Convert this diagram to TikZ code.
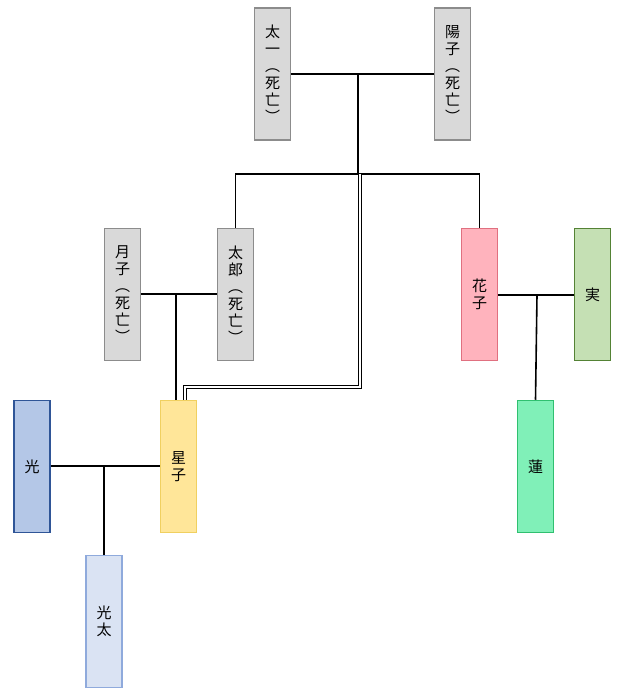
\documentclass[tikz,border=0pt]{standalone}
\usepackage{fontspec}
\newfontfamily\cjk{Noto Sans CJK JP}
\definecolor{gf}{HTML}{D9D9D9}\definecolor{gd}{HTML}{8C8C8C}
\definecolor{pkd}{HTML}{E07080}\definecolor{pkf}{HTML}{FFB3BD}
\definecolor{mid}{HTML}{548235}\definecolor{mif}{HTML}{C5E0B4}
\definecolor{yd}{HTML}{F0D060}\definecolor{yf}{HTML}{FFE699}
\definecolor{rd}{HTML}{30C070}\definecolor{rf}{HTML}{80F0B8}
\definecolor{bd}{HTML}{2F5597}\definecolor{bf}{HTML}{B4C7E7}
\definecolor{lbd}{HTML}{8FAADC}\definecolor{lbf}{HTML}{DAE3F3}
\begin{document}
\begin{tikzpicture}[x=1pt,y=-1pt,
  p/.style={draw=#1,line width=1.5pt,minimum width=36pt,minimum height=132pt,inner sep=0pt,align=center,font=\cjk\fontsize{15}{17}\selectfont},
  ln/.style={line width=1.6pt}]
\useasboundingbox (0,0) rectangle (640,692);
\node[p=gd,fill=gf] (taichi) at (272.5,74) {太\\一\\︵\\死\\亡\\︶};
\node[p=gd,fill=gf] (yoko) at (452.5,74) {陽\\子\\︵\\死\\亡\\︶};
\node[p=gd,fill=gf] (taro) at (235.5,294.5) {太\\郎\\︵\\死\\亡\\︶};
\node[p=gd,fill=gf] (tsuki) at (122.5,294.5) {月\\子\\︵\\死\\亡\\︶};
\node[p=pkd,fill=pkf] (hana) at (479.5,294.5) {花\\子};
\node[p=mid,fill=mif] (mi) at (592.5,294.5) {実};
\node[p=yd,fill=yf] (hoshi) at (178.5,466.5) {星\\子};
\node[p=rd,fill=rf] (ren) at (535.5,466.5) {蓮};
\node[p=bd,fill=bf] (hikari) at (32,466.5) {光};
\node[p=lbd,fill=lbf] (kota) at (104,621.5) {光\\太};
\coordinate (j1) at (358,74);
\coordinate (j2) at (176,294);
\coordinate (j3) at (537,295);
\coordinate (j4) at (104,466);
\draw[ln] (taichi.east|-j1) -- (yoko.west|-j1);
\draw[ln] (j1) -- (358,174);
\draw[ln] (taro.north) -- (235.5,174) -- (479.5,174) -- (hana.north);
\draw[ln] (tsuki.east|-j2) -- (taro.west|-j2);
\draw[ln] (j2) -- (j2|-hoshi.north);
\draw[ln] (hana.east|-j3) -- (mi.west|-j3);
\draw[ln] (j3) -- (ren.north);
\draw[ln] (hikari.east|-j4) -- (hoshi.west|-j4);
\draw[ln] (j4) -- (kota.north);
\draw[double,double distance=1.6pt,line width=1.3pt] (360,174) -- (360,387) -- (185,387) -- (185,400);
\end{tikzpicture}
\end{document}
